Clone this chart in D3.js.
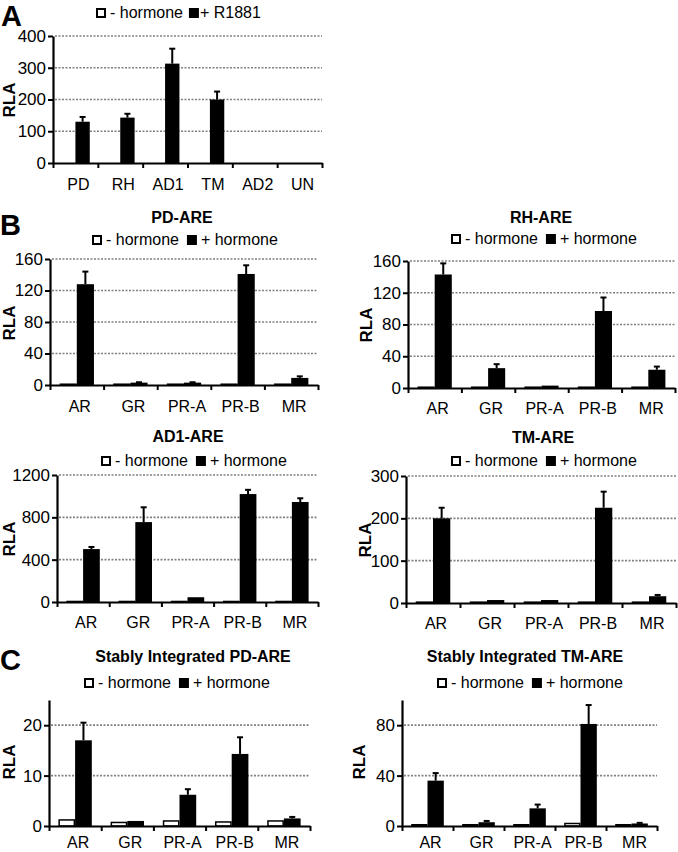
<!DOCTYPE html>
<html><head><meta charset="utf-8">
<script src="https://cdn.jsdelivr.net/npm/d3@7"></script>
<style>
body{margin:0;background:#fff}
svg{display:block}
text{font-family:"Liberation Sans",Arial,Helvetica,sans-serif;fill:#000}
</style>
</head><body>
<svg id="c" width="678" height="852"></svg>
<script>
// ---------- DATA ----------
const catsA = ["PD", "RH", "AD1", "TM", "AD2", "UN"];
const aMinus = [0, 0, 0, 0, 0, 0];
const aPlus = [130, 143, 313, 200, 0, 0];
const aErr = [15, 12, 47, 25, 0, 0];
const ticksA = [0, 100, 200, 300, 400];

const receptors = ["AR", "GR", "PR-A", "PR-B", "MR"];

const pdMinus = [1, 1, 1, 1, 1];
const pdPlus = [128, 3, 3, 141, 9];
const pdErr = [16, 0.5, 0.5, 11, 2];
const ticksPD = [0, 40, 80, 120, 160];

const rhMinus = [1, 1, 1, 1, 1];
const rhPlus = [143, 25, 3, 97, 23];
const rhErr = [14, 5, 0, 17, 4];
const ticksRH = [0, 40, 80, 120, 160];

const ad1Minus = [5, 5, 5, 5, 5];
const ad1Plus = [500, 755, 45, 1020, 945];
const ad1Err = [20, 140, 0, 40, 35];
const ticksAD1 = [0, 400, 800, 1200];

const tmMinus = [2, 2, 2, 2, 2];
const tmPlus = [200, 7, 7, 225, 16];
const tmErr = [25, 0, 0, 38, 3];
const ticksTM = [0, 100, 200, 300];

const sPdMinus = [1.2, 0.7, 1.0, 0.8, 1.0];
const sPdPlus = [17, 1.0, 6.2, 14.3, 1.5];
const sPdErr = [3.5, 0, 1.1, 3.3, 0.3];
const ticksSPD = [0, 10, 20];

const sTmMinus = [1, 1, 1, 2, 1];
const sTmPlus = [36, 3, 14, 81, 2];
const sTmErr = [6, 1, 3, 15, 0.5];
const ticksSTM = [0, 40, 80];

// ---------- DRAW ----------
const svg = d3.select("#c");

function panel(c) {
  const g = svg.append("g");
  const n = c.cats.length;
  const x = d3.scaleBand().domain(c.cats).range([c.x0, c.x1]).paddingInner(0.36).paddingOuter(0.18);
  const xs = d3.scaleBand().domain(["minus", "plus"]).range([0, x.bandwidth()]);
  const y = d3.scaleLinear().domain([0, c.max]).range([c.y0, c.yTop]);

  // gridlines
  g.selectAll("line.grid").data(c.ticks.filter(t => t > 0)).join("line")
    .attr("x1", c.x0 + 2).attr("x2", c.gridEnd || c.x1)
    .attr("y1", d => y(d)).attr("y2", d => y(d))
    .attr("stroke", "#808080").attr("stroke-width", 1.7).attr("stroke-dasharray", "2,1.5");

  // bars
  const rows = c.cats.map((k, i) => ({k, m: c.minus[i], p: c.plus[i], e: c.err[i]}));
  g.selectAll("rect.m").data(rows.filter(d => d.m > 0)).join("rect")
    .attr("x", d => x(d.k) + xs("minus") + 0.75).attr("width", xs.bandwidth() - 1.5)
    .attr("y", d => y(d.m)).attr("height", d => Math.max(0, c.y0 - y(d.m)))
    .attr("fill", "#fff").attr("stroke", "#000").attr("stroke-width", 1.5);
  g.selectAll("rect.p").data(rows.filter(d => d.p > 0)).join("rect")
    .attr("x", d => x(d.k) + xs("plus")).attr("width", xs.bandwidth())
    .attr("y", d => y(d.p)).attr("height", d => Math.max(0, c.y0 - y(d.p)))
    .attr("fill", "#000");
  // error bars
  const eb = rows.filter(d => d.p > 0 && d.e > 0);
  const cx = d => x(d.k) + xs("plus") + xs.bandwidth() / 2;
  g.selectAll("line.e").data(eb).join("line")
    .attr("x1", cx).attr("x2", cx)
    .attr("y1", d => y(d.p)).attr("y2", d => y(d.p + d.e))
    .attr("stroke", "#000").attr("stroke-width", 2);
  g.selectAll("line.cap").data(eb).join("line")
    .attr("x1", d => cx(d) - 3).attr("x2", d => cx(d) + 3)
    .attr("y1", d => y(d.p + d.e)).attr("y2", d => y(d.p + d.e))
    .attr("stroke", "#000").attr("stroke-width", 2);

  // y axis
  const ya = g.append("g").attr("transform", `translate(${c.x0},0)`)
    .call(d3.axisLeft(y).tickValues(c.ticks).tickSize(5).tickSizeOuter(0).tickPadding(2).tickFormat(d3.format("d")));
  ya.select(".domain").attr("stroke-width", 2.2);
  ya.selectAll(".tick line").attr("stroke-width", 2);
  ya.selectAll(".tick text").attr("font-size", 17).attr("font-family", "'Liberation Sans',Arial,sans-serif").attr("fill", "#000");

  // x axis (boundaries)
  const xb = d3.scaleLinear().domain([0, n]).range([c.x0, c.x1]);
  const xa = g.append("g").attr("transform", `translate(0,${c.y0})`)
    .call(d3.axisBottom(xb).tickValues(d3.range(n + 1)).tickSize(5).tickSizeOuter(0).tickFormat(""));
  xa.select(".domain").attr("stroke-width", 2.2);
  xa.selectAll(".tick line").attr("stroke-width", 2);

  // category labels
  g.selectAll("text.cat").data(c.cats).join("text")
    .attr("x", d => x(d) + x.bandwidth() / 2 + 3).attr("y", c.y0 + c.labelDy)
    .attr("text-anchor", "middle").attr("font-size", 16).text(d => d);

  // y label
  g.append("text").attr("transform", `translate(${c.ylabX},${(c.y0 + c.ylabY)}) rotate(-90)`)
    .attr("text-anchor", "middle").attr("font-size", 17).attr("font-weight", "bold").text("RLA");

  // title
  if (c.title) {
    g.append("text").attr("x", c.titleX).attr("y", c.titleY).attr("text-anchor", "middle")
      .attr("font-size", 16).attr("font-weight", "bold").text(c.title);
  }

  // legend
  const lg = g.append("g").attr("transform", `translate(${c.legX},${c.legY})`);
  lg.append("rect").attr("x", 1).attr("y", -9).attr("width", 8).attr("height", 8)
    .attr("fill", "#fff").attr("stroke", "#000").attr("stroke-width", 2);
  const t1 = lg.append("text").attr("x", 14).attr("y", 0).attr("font-size", 16).text(c.legMinus);
  const w1 = t1.node().getComputedTextLength();
  const bx = 14 + w1 + c.legGap;
  lg.append("rect").attr("x", bx).attr("y", -10).attr("width", 10).attr("height", 10).attr("fill", "#000");
  lg.append("text").attr("x", bx + 10 + c.legGap2).attr("y", 0).attr("font-size", 16).text(c.legPlus);

  // panel letter
  if (c.letter) {
    g.append("text").attr("x", c.letX).attr("y", c.letY).attr("font-size", 29)
      .attr("font-weight", "bold").text(c.letter);
  }
}

panel({cats: catsA, minus: aMinus, plus: aPlus, err: aErr, max: 400, ticks: ticksA,
  x0: 53, x1: 322, y0: 163, yTop: 36, labelDy: 27, ylabX: 15, ylabY: -63,
  legX: 96, legY: 18, legMinus: "- hormone", legPlus: "+ R1881", legGap: 6, legGap2: 1,
  letter: "A", letX: 1, letY: 26});

panel({cats: receptors, minus: pdMinus, plus: pdPlus, err: pdErr, max: 160, ticks: ticksPD,
  x0: 50, x1: 318, y0: 385, yTop: 259, labelDy: 27, ylabX: 15, ylabY: -62,
  title: "PD-ARE", titleX: 182, titleY: 223,
  legX: 92, legY: 245, legMinus: "- hormone", legPlus: "+ hormone", legGap: 8, legGap2: 4,
  letter: "B", letX: 0, letY: 235});

panel({cats: receptors, minus: rhMinus, plus: rhPlus, err: rhErr, max: 160, ticks: ticksRH,
  x0: 408, x1: 675, y0: 388, yTop: 261, labelDy: 26, ylabX: 372, ylabY: -63,
  title: "RH-ARE", titleX: 541, titleY: 223,
  legX: 451, legY: 244, legMinus: "- hormone", legPlus: "+ hormone", legGap: 8, legGap2: 4});

panel({cats: receptors, minus: ad1Minus, plus: ad1Plus, err: ad1Err, max: 1200, ticks: ticksAD1,
  x0: 57, x1: 318, y0: 602, yTop: 475, labelDy: 26, ylabX: 15, ylabY: -63,
  title: "AD1-ARE", titleX: 188, titleY: 442,
  legX: 101, legY: 466, legMinus: "- hormone", legPlus: "+ hormone", legGap: 8, legGap2: 4});

panel({cats: receptors, minus: tmMinus, plus: tmPlus, err: tmErr, max: 300, ticks: ticksTM,
  x0: 406, x1: 676, y0: 603, yTop: 476, labelDy: 26, ylabX: 371, ylabY: -63,
  title: "TM-ARE", titleX: 543, titleY: 443,
  legX: 451, legY: 466, legMinus: "- hormone", legPlus: "+ hormone", legGap: 8, legGap2: 4});

panel({cats: receptors, minus: sPdMinus, plus: sPdPlus, err: sPdErr, max: 25, ticks: ticksSPD,
  x0: 49, x1: 310, y0: 826, yTop: 700, labelDy: 22, ylabX: 15, ylabY: -64,
  title: "Stably Integrated PD-ARE", titleX: 193, titleY: 662,
  legX: 84, legY: 688, legMinus: "- hormone", legPlus: "+ hormone", legGap: 8, legGap2: 4,
  letter: "C", letX: 0, letY: 670});

panel({cats: receptors, minus: sTmMinus, plus: sTmPlus, err: sTmErr, max: 100, ticks: ticksSTM,
  x0: 402, x1: 657, y0: 826, yTop: 700, labelDy: 22, ylabX: 365, ylabY: -64,
  title: "Stably Integrated TM-ARE", titleX: 525, titleY: 662,
  legX: 437, legY: 688, legMinus: "- hormone", legPlus: "+ hormone", legGap: 8, legGap2: 4});
</script>
</body></html>
